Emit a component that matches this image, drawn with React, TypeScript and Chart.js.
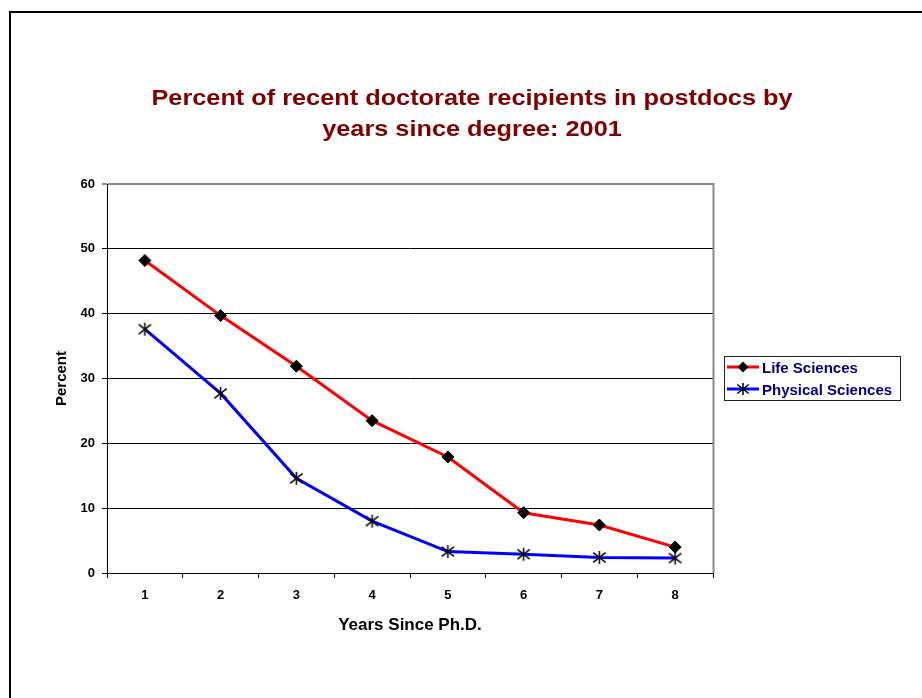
import React, { useEffect, useRef } from 'react';
import { Chart, registerables } from 'chart.js';

Chart.register(...registerables);

const years = ['1', '2', '3', '4', '5', '6', '7', '8'];
const lifeSciences = [48.2, 39.7, 31.9, 23.5, 17.9, 9.3, 7.4, 4.0];
const physicalSciences = [37.6, 27.7, 14.6, 8.0, 3.3, 2.9, 2.4, 2.3];
const yTickValues = [0, 10, 20, 30, 40, 50, 60];
const titleLines = ['Percent of recent doctorate recipients in postdocs by', 'years since degree: 2001'];
const seriesNames = ['Life Sciences', 'Physical Sciences'];
const xTitle = 'Years Since Ph.D.';
const yTitle = 'Percent';

const FONT = "Arial, 'Liberation Sans', Helvetica, sans-serif";

function drawAsterisk(ctx: CanvasRenderingContext2D, x: number, y: number, r: number) {
  const dx = r * 0.95;
  const dy = r * 0.75;
  ctx.beginPath();
  ctx.moveTo(x, y - r); ctx.lineTo(x, y + r);
  ctx.moveTo(x - dx, y - dy); ctx.lineTo(x + dx, y + dy);
  ctx.moveTo(x - dx, y + dy); ctx.lineTo(x + dx, y - dy);
  ctx.stroke();
}

function makeAsteriskCanvas(): HTMLCanvasElement {
  const c = document.createElement('canvas');
  c.width = 15;
  c.height = 15;
  const ctx = c.getContext('2d')!;
  ctx.strokeStyle = '#000';
  ctx.lineWidth = 1.5;
  drawAsterisk(ctx, 7.5, 7.5, 6.5);
  return c;
}

const decorPlugin = {
  id: 'decor',
  afterDraw(chart: any) {
    const ctx = chart.ctx as CanvasRenderingContext2D;
    const area = chart.chartArea;
    ctx.save();
    // outer frame
    ctx.strokeStyle = '#000';
    ctx.lineWidth = 2;
    ctx.strokeRect(10, 12, 1200, 1200);

    // plot area right border (grey)
    ctx.strokeStyle = '#888';
    ctx.lineWidth = 2;
    ctx.beginPath();
    ctx.moveTo(area.right + 0.5, area.top - 1);
    ctx.lineTo(area.right + 0.5, area.bottom);
    ctx.stroke();

    // title
    ctx.fillStyle = '#800000';
    ctx.font = `bold 22px ${FONT}`;
    ctx.textAlign = 'center';
    ctx.textBaseline = 'middle';
    const cx = 472;
    const ys = [99, 130];
    titleLines.forEach((line, i) => {
      ctx.save();
      ctx.translate(cx, ys[i]);
      ctx.scale(1.15, 1);
      ctx.fillText(line, 0, 0);
      ctx.restore();
    });

    // legend
    const bx = 724.5, by = 356.5, bw = 176, bh = 44;
    ctx.fillStyle = '#fff';
    ctx.fillRect(bx, by, bw, bh);
    ctx.strokeStyle = '#222';
    ctx.lineWidth = 1;
    ctx.strokeRect(bx, by, bw, bh);
    const colors = ['#ff0000', '#0000ff'];
    const rowY = [367, 389];
    seriesNames.forEach((name, i) => {
      const y = rowY[i];
      ctx.strokeStyle = colors[i];
      ctx.lineWidth = 3;
      ctx.beginPath();
      ctx.moveTo(727, y);
      ctx.lineTo(759, y);
      ctx.stroke();
      const mx = 743;
      if (i === 0) {
        ctx.fillStyle = '#000';
        ctx.beginPath();
        ctx.moveTo(mx, y - 5.5);
        ctx.lineTo(mx + 5.5, y);
        ctx.lineTo(mx, y + 5.5);
        ctx.lineTo(mx - 5.5, y);
        ctx.closePath();
        ctx.fill();
      } else {
        ctx.strokeStyle = '#000';
        ctx.lineWidth = 1.5;
        drawAsterisk(ctx, mx, y, 6);
      }
      ctx.fillStyle = '#000080';
      ctx.font = `bold 15px ${FONT}`;
      ctx.textAlign = 'left';
      ctx.textBaseline = 'middle';
      ctx.fillText(name, 762, y + 2);
    });
    ctx.restore();
  },
};

export default function App() {
  const ref = useRef<HTMLCanvasElement | null>(null);

  useEffect(() => {
    if (!ref.current) return;
    const asterisk = makeAsteriskCanvas();
    const chart = new Chart(ref.current, {
      type: 'line',
      data: {
        labels: years,
        datasets: [
          {
            label: seriesNames[0],
            data: lifeSciences,
            borderColor: '#ff0000',
            backgroundColor: '#000',
            borderWidth: 3,
            pointStyle: 'rectRot',
            pointRadius: 6,
            pointBackgroundColor: '#000',
            pointBorderColor: '#000',
            pointBorderWidth: 1,
            tension: 0,
          },
          {
            label: seriesNames[1],
            data: physicalSciences,
            borderColor: '#0000ff',
            backgroundColor: '#000',
            borderWidth: 3,
            pointStyle: asterisk as any,
            pointRadius: 7,
            pointBackgroundColor: '#000',
            pointBorderColor: '#000',
            pointBorderWidth: 1,
            tension: 0,
          },
        ],
      },
      options: {
        responsive: false,
        animation: false,
        devicePixelRatio: 1,
        layout: { padding: { left: 0, top: 184, right: 209, bottom: 0 } },
        plugins: {
          legend: { display: false },
          title: { display: false },
          tooltip: { enabled: false },
        },
        scales: {
          x: {
            type: 'category',
            offset: true,
            afterFit: (scale: any) => { scale.height = 125; },
            grid: {
              display: true,
              offset: true,
              drawOnChartArea: false,
              drawTicks: true,
              tickLength: 5,
              color: '#000',
            },
            border: { display: true, color: '#000', width: 1 },
            ticks: {
              color: '#000',
              font: { family: FONT, size: 13, weight: 'bold' },
              padding: 10,
              maxRotation: 0,
            },
            title: {
              display: true,
              text: xTitle,
              color: '#000',
              font: { family: FONT, size: 17, weight: 'bold' },
              padding: { top: 0, bottom: 62 },
            },
          },
          y: {
            min: 0,
            max: 60,
            afterFit: (scale: any) => { scale.width = 107; },
            afterBuildTicks: (scale: any) => {
              scale.ticks = yTickValues.map((v) => ({ value: v }));
            },
            grid: {
              display: true,
              drawOnChartArea: true,
              drawTicks: true,
              tickLength: 5,
              color: (c: any) => (c.tick && c.tick.value === 60 ? '#888' : '#000'),
              lineWidth: (c: any) => (c.tick && c.tick.value === 60 ? 2 : 1),
            },
            border: { display: true, color: '#000', width: 1 },
            ticks: {
              color: '#000',
              font: { family: FONT, size: 13, weight: 'bold' },
              padding: 7,
            },
            title: {
              display: true,
              text: yTitle,
              color: '#000',
              font: { family: FONT, size: 15, weight: 'bold' },
              padding: { top: 53, bottom: 0 },
            },
          },
        },
      },
      plugins: [decorPlugin],
    });
    return () => chart.destroy();
  }, []);

  return (
    <div style={{ position: 'absolute', left: 0, top: 0, width: 922, height: 698, background: '#fff' }}>
      <canvas ref={ref} width={922} height={698} style={{ display: 'block' }} />
    </div>
  );
}
